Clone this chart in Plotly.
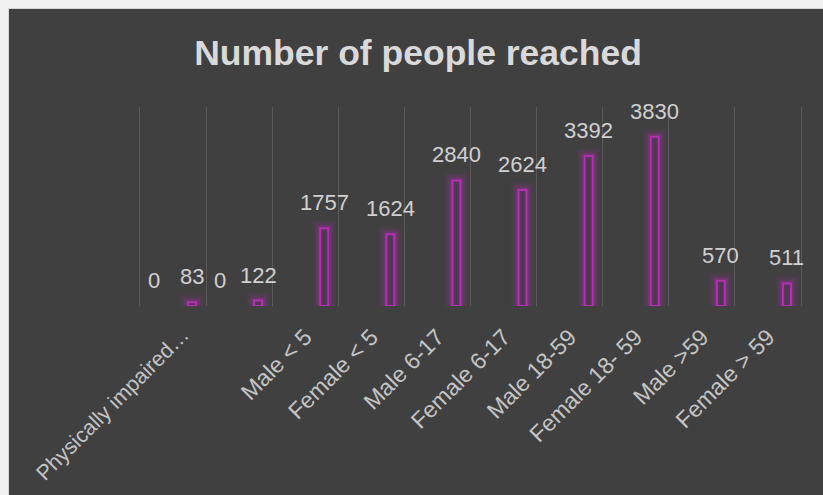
import plotly.graph_objects as go

# ---- data ----
tick_labels = ["Physically impaired…", "", "Male < 5", "Female < 5", "Male 6-17",
               "Female 6-17", "Male 18-59", "Female 18- 59", "Male >59", "Female > 59"]
series_a = [0, 0, None, None, None, None, None, None, None, None]
series_b = [83, 122, 1757, 1624, 2840, 2624, 3392, 3830, 570, 511]
title_text = "Number of people reached"

positions = list(range(len(tick_labels)))

W, H = 823, 495
pad_u = 0.03                      # small range padding so edge gridlines are drawn
cat_px = 66.1
L = 140 - pad_u * cat_px
pw = cat_px * (len(tick_labels) + 2 * pad_u)
R = W - L - pw
T, B = 107, 189
ph = H - T - B

BG = "#404040"
MAG = "#b42fb4"
FONT = "Liberation Sans, Arial, sans-serif"
TICK_FONT = dict(family=FONT, size=23, color="#c4c4c4")

bar_w = 0.121
shift = 0.287

fig = go.Figure()

# glow layers
for lw, a in [(16, 0.07), (11, 0.12), (6, 0.22)]:
    fig.add_trace(go.Bar(
        x=positions, y=series_b, width=bar_w, offset=shift - bar_w / 2,
        marker=dict(color="rgba(0,0,0,0)", line=dict(color=f"rgba(180,47,180,{a})", width=lw)),
        hoverinfo="skip", showlegend=False))

# main outlined bars
fig.add_trace(go.Bar(
    x=positions, y=series_b, width=bar_w, offset=shift - bar_w / 2,
    marker=dict(color="rgba(70,55,72,0.55)", line=dict(color=MAG, width=2)),
    showlegend=False))

# series a (zero bars)
fig.add_trace(go.Bar(
    x=positions, y=series_a, width=bar_w, offset=-shift - bar_w / 2,
    marker=dict(color="rgba(0,0,0,0)", line=dict(color=MAG, width=0)),
    showlegend=False))

annotations = []
for i, v in zip(positions, series_b):
    if v is not None:
        annotations.append(dict(x=i + shift, y=v, text=str(v), showarrow=False,
                                xanchor="center", yanchor="bottom", yshift=11,
                                font=dict(family=FONT, size=22, color="#d0d0d0")))
for i, v in zip(positions, series_a):
    if v is not None:
        annotations.append(dict(x=i - shift, y=v, text=str(v), showarrow=False,
                                xanchor="center", yanchor="bottom", yshift=11,
                                font=dict(family=FONT, size=22, color="#d0d0d0")))

# first (truncated) category label sits a little to the right, as in the original
annotations.append(dict(x=positions[0] + shift, y=0, text=tick_labels[0], showarrow=False,
                        textangle=-45, xanchor="right", yanchor="top",
                        xshift=5, yshift=-14,
                        font=dict(family=FONT, size=21.5, color="#c4c4c4")))
ticktext = [""] + tick_labels[1:]

# light outer frame (left and top strips)
shapes = [
    dict(type="rect", xref="paper", yref="paper", layer="above",
         x0=-L / pw, x1=(9 - L) / pw, y0=-B / ph, y1=(H - B) / ph,
         fillcolor="#f0f0f0", line=dict(width=0)),
    dict(type="rect", xref="paper", yref="paper", layer="above",
         x0=-L / pw, x1=(W - L) / pw, y0=(H - B - 9) / ph, y1=(H - B) / ph,
         fillcolor="#f0f0f0", line=dict(width=0)),
    dict(type="line", xref="paper", yref="paper", layer="above",
         x0=(8.5 - L) / pw, x1=(8.5 - L) / pw, y0=-B / ph, y1=(H - B - 8.5) / ph,
         line=dict(color="#d6d6d6", width=1)),
    dict(type="line", xref="paper", yref="paper", layer="above",
         x0=(8.5 - L) / pw, x1=(W - L) / pw, y0=(H - B - 8.5) / ph, y1=(H - B - 8.5) / ph,
         line=dict(color="#d6d6d6", width=1)),
]

fig.update_layout(
    width=W, height=H,
    margin=dict(l=L, r=R, t=T, b=B, pad=0, autoexpand=False),
    paper_bgcolor=BG, plot_bgcolor=BG,
    barmode="overlay",
    title=dict(text=f"<b>{title_text}</b>", x=0.508, xref="container", xanchor="center",
               y=1 - 53 / H, yref="container", yanchor="middle",
               font=dict(family=FONT, size=35.5, color="#d9d9d9")),
    xaxis=dict(range=[-0.5 - pad_u, len(tick_labels) - 0.5 + pad_u], tickmode="array",
               tickvals=positions, ticktext=ticktext, tickangle=-45,
               showgrid=False, zeroline=False, showline=False, ticks="",
               automargin=False, ticklabelstandoff=12,
               tickfont=TICK_FONT,
               minor=dict(tickmode="array",
                          tickvals=[p - 0.5 for p in positions] + [positions[-1] + 0.5],
                          showgrid=True, gridcolor="#5a5a5a", gridwidth=1, ticks="")),
    yaxis=dict(range=[0, 4500], showgrid=False, zeroline=False, showline=False,
               showticklabels=False, ticks="", automargin=False),
    annotations=annotations,
    shapes=shapes,
    showlegend=False,
)

fig.write_html("out.html")
